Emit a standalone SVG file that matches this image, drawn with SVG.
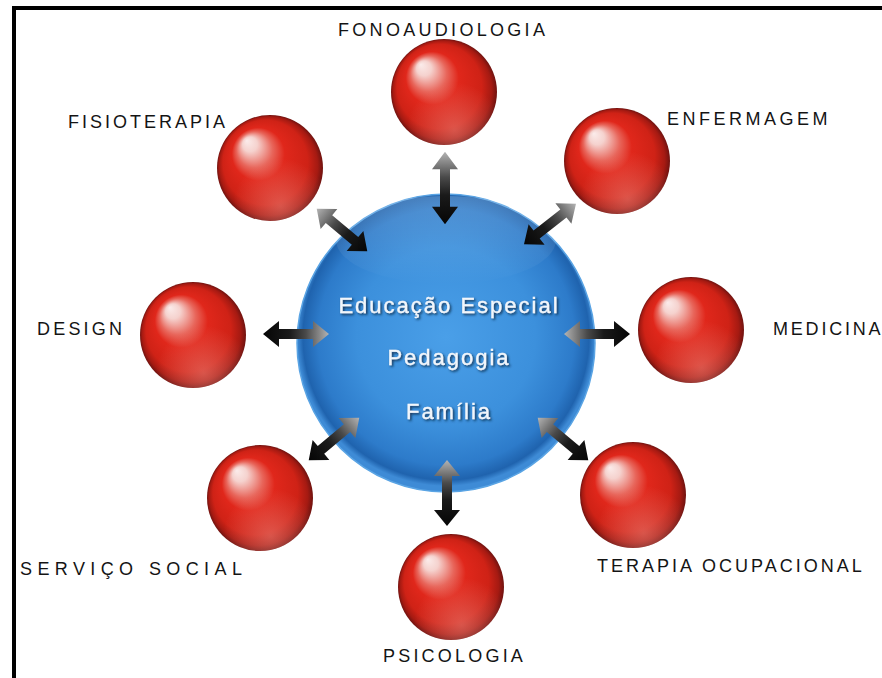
<svg xmlns="http://www.w3.org/2000/svg" width="882" height="678" viewBox="0 0 882 678">
  <defs>
    <style>
      .lbl { font-family: "Liberation Sans", Arial, sans-serif; font-size: 18px; fill: #141414; }
      .ctr { font-family: "Liberation Sans", Arial, sans-serif; font-size: 22px; fill: #f2f6fb; stroke: #f2f6fb; stroke-width: 0.3px; letter-spacing: 2px; text-anchor: middle; filter: url(#tshadow); }
      .ball { fill: url(#redg); }
      .ballhi { fill: url(#redlow); }
      .arrow { fill: url(#arrg); }
    </style>
    <radialGradient id="redg" cx="0.5" cy="0.5" r="0.5" fx="0.28" fy="0.24">
      <stop offset="0" stop-color="#fbeceb"/>
      <stop offset="0.14" stop-color="#f5d2ce"/>
      <stop offset="0.34" stop-color="#e8665b"/>
      <stop offset="0.5" stop-color="#e0271b"/>
      <stop offset="0.8" stop-color="#cf2216"/>
      <stop offset="0.93" stop-color="#a51a12"/>
      <stop offset="1" stop-color="#701310"/>
    </radialGradient>
    <radialGradient id="redlow" cx="0.6" cy="0.86" r="0.45">
      <stop offset="0" stop-color="#f08a80" stop-opacity="0.5"/>
      <stop offset="1" stop-color="#f08a80" stop-opacity="0"/>
    </radialGradient>
    <radialGradient id="blueg" cx="0.5" cy="0.48" r="0.5">
      <stop offset="0" stop-color="#4a9fe8"/>
      <stop offset="0.6" stop-color="#3c90dc"/>
      <stop offset="0.86" stop-color="#2d7bca"/>
      <stop offset="0.96" stop-color="#1f63ae"/>
      <stop offset="1" stop-color="#3e8bd6"/>
    </radialGradient>
    <linearGradient id="gloss" x1="0" y1="0" x2="0" y2="1">
      <stop offset="0" stop-color="#ffffff" stop-opacity="0.18"/>
      <stop offset="1" stop-color="#ffffff" stop-opacity="0"/>
    </linearGradient>
    <linearGradient id="arrg" x1="0" y1="0" x2="1" y2="0">
      <stop offset="0" stop-color="#b4b4b4"/>
      <stop offset="0.35" stop-color="#4a4a4a"/>
      <stop offset="0.6" stop-color="#1a1a1a"/>
      <stop offset="1" stop-color="#050505"/>
    </linearGradient>
    <filter id="tshadow" x="-10%" y="-30%" width="120%" height="160%">
      <feDropShadow dx="1.5" dy="1.5" stdDeviation="1" flood-color="#0b2846" flood-opacity="0.9"/>
    </filter>
    <path id="arr" d="M -33 0 L -17 -13 L -17 -5 L 17 -5 L 17 -13 L 33 0 L 17 13 L 17 5 L -17 5 L -17 13 Z"/>
  </defs>

  <rect x="0" y="0" width="882" height="678" fill="#ffffff"/>
  <!-- frame -->
  <rect x="12" y="6" width="870" height="4" fill="#000"/>
  <rect x="12" y="6" width="4" height="672" fill="#000"/>

  <g id="center">
    <circle cx="446" cy="343" r="149" fill="url(#blueg)" stroke="#5aa4e4" stroke-width="1.5"/>
    <ellipse cx="446" cy="240" rx="110" ry="44" fill="url(#gloss)"/>
    <text class="ctr" x="449" y="313">Educação Especial</text>
    <text class="ctr" x="449" y="365">Pedagogia</text>
    <text class="ctr" x="449" y="419">Família</text>
  </g>

  <g id="connectors">
    <use href="#arr" class="arrow" transform="translate(445,188) rotate(90) scale(1.1,1)"/>
    <use href="#arr" class="arrow" transform="translate(342,230) rotate(40)"/>
    <use href="#arr" class="arrow" transform="translate(550,224) rotate(142)"/>
    <use href="#arr" class="arrow" transform="translate(597,334) rotate(0)"/>
    <use href="#arr" class="arrow" transform="translate(563,439) rotate(40)"/>
    <use href="#arr" class="arrow" transform="translate(447,493) rotate(90)"/>
    <use href="#arr" class="arrow" transform="translate(334,439) rotate(140)"/>
    <use href="#arr" class="arrow" transform="translate(296,334) rotate(180)"/>
  </g>

  <g id="fonoaudiologia">
    <circle class="ball" cx="444" cy="92" r="53"/>
    <circle class="ballhi" cx="444" cy="92" r="53"/>
    <text class="lbl" x="338" y="36" style="letter-spacing:3.3px">FONOAUDIOLOGIA</text>
  </g>
  <g id="enfermagem">
    <circle class="ball" cx="617" cy="161" r="53"/>
    <circle class="ballhi" cx="617" cy="161" r="53"/>
    <text class="lbl" x="667" y="125" style="letter-spacing:3.5px">ENFERMAGEM</text>
  </g>
  <g id="medicina">
    <circle class="ball" cx="691" cy="330" r="53"/>
    <circle class="ballhi" cx="691" cy="330" r="53"/>
    <text class="lbl" x="773" y="335" style="letter-spacing:2.8px">MEDICINA</text>
  </g>
  <g id="terapia-ocupacional">
    <circle class="ball" cx="633" cy="495" r="53"/>
    <circle class="ballhi" cx="633" cy="495" r="53"/>
    <text class="lbl" x="597" y="572" style="letter-spacing:3px">TERAPIA OCUPACIONAL</text>
  </g>
  <g id="psicologia">
    <circle class="ball" cx="451" cy="587" r="53"/>
    <circle class="ballhi" cx="451" cy="587" r="53"/>
    <text class="lbl" x="383" y="662" style="letter-spacing:3.2px">PSICOLOGIA</text>
  </g>
  <g id="servico-social">
    <circle class="ball" cx="260" cy="498" r="53"/>
    <circle class="ballhi" cx="260" cy="498" r="53"/>
    <text class="lbl" x="20" y="575" style="letter-spacing:5.4px">SERVIÇO SOCIAL</text>
  </g>
  <g id="design">
    <circle class="ball" cx="193" cy="335" r="53"/>
    <circle class="ballhi" cx="193" cy="335" r="53"/>
    <text class="lbl" x="37" y="335" style="letter-spacing:3.2px">DESIGN</text>
  </g>
  <g id="fisioterapia">
    <circle class="ball" cx="270" cy="168" r="53"/>
    <circle class="ballhi" cx="270" cy="168" r="53"/>
    <text class="lbl" x="68" y="128" style="letter-spacing:3px">FISIOTERAPIA</text>
  </g>
</svg>
